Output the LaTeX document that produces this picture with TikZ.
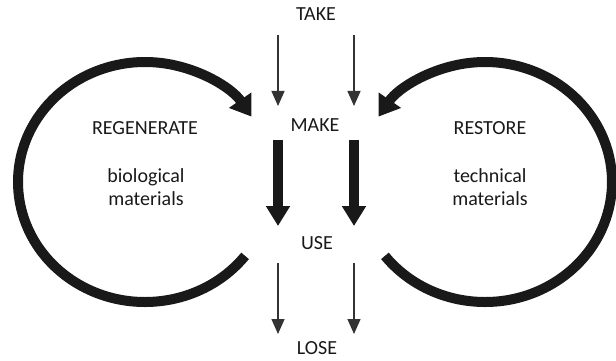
\documentclass[tikz,border=0pt]{standalone}
\usepackage{fontspec}
\setmainfont{Carlito}
\usetikzlibrary{arrows.meta}
\begin{document}
\begin{tikzpicture}[x=1pt,y=-1pt,
  lbl/.style={font=\fontsize{20}{23}\selectfont, text=black!90, inner sep=0pt, align=center},
  thinarrow/.style={line width=1.3pt, draw=black!80, -{Triangle[length=15pt,width=13pt]}},
  thickarrow/.style={line width=10pt, draw=black!90, -{Triangle[length=20pt,width=23pt]}},
  looparrow/.style={line width=10pt, draw=black!90, -{Triangle[length=20pt,width=26pt]}}]
\useasboundingbox (0,0) rectangle (616,361);
% labels
\node[lbl] (take) at (316,14) {TAKE};
\node[lbl] (make) at (315,125) {MAKE};
\node[lbl] (use) at (317,243) {USE};
\node[lbl] (lose) at (317,348) {LOSE};
\node[lbl] (regen) at (145,128) {REGENERATE};
\node[lbl] (bio) at (146,187) {biological\\materials};
\node[lbl] (restore) at (490,128) {RESTORE};
\node[lbl] (tech) at (490,187) {technical\\materials};
% coordinates
\coordinate (t1s) at (278,35);  \coordinate (t1e) at (278,106);
\coordinate (t2s) at (354,35);  \coordinate (t2e) at (354,106);
\coordinate (m1s) at (278,140); \coordinate (m1e) at (278,226);
\coordinate (m2s) at (354,140); \coordinate (m2e) at (354,226);
\coordinate (u1s) at (278,263); \coordinate (u1e) at (278,334);
\coordinate (u2s) at (354,263); \coordinate (u2e) at (354,334);
\coordinate (lc) at (145,182);
\coordinate (rc) at (485,182);
% straight arrows
\draw[thinarrow] (t1s) -- (t1e);
\draw[thinarrow] (t2s) -- (t2e);
\draw[thickarrow] (m1s) -- (m1e);
\draw[thickarrow] (m2s) -- (m2e);
\draw[thinarrow] (u1s) -- (u1e);
\draw[thinarrow] (u2s) -- (u2e);
% loops
\draw[looparrow] (lc) ++(38:127 and 120) arc[start angle=38,end angle=327,x radius=127,y radius=120];
\draw[looparrow] (rc) ++(142:127 and 120) arc[start angle=142,end angle=-147,x radius=127,y radius=120];
\end{tikzpicture}
\end{document}
